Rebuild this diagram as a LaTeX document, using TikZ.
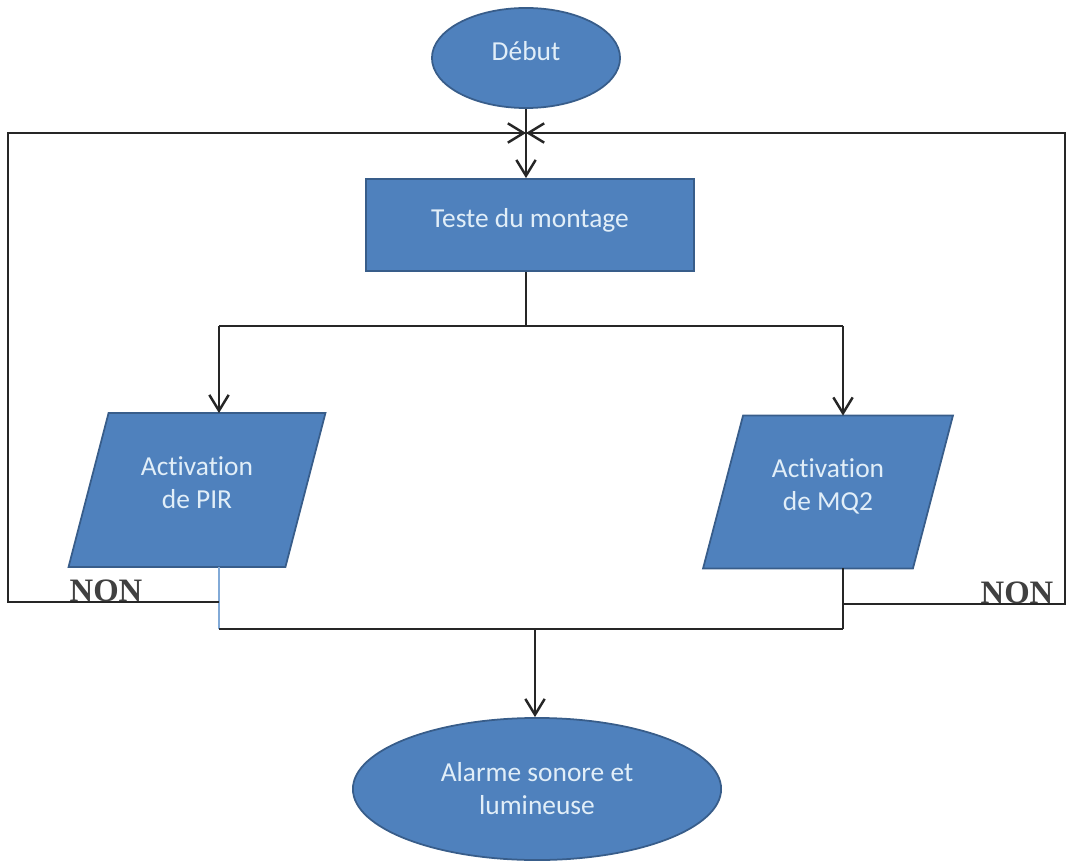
\documentclass[tikz,border=0pt]{standalone}
\usepackage{fontspec}
\setmainfont{Carlito}[Ligatures=NoCommon]
\newfontfamily\nonfont{Liberation Serif}
\usetikzlibrary{calc,arrows.meta,shapes.geometric,backgrounds}
\definecolor{boxblue}{RGB}{79,129,189}
\definecolor{boxedge}{RGB}{56,93,138}
\definecolor{boxtext}{RGB}{225,238,248}
\definecolor{thinblue}{RGB}{130,170,215}
\tikzset{
  blk/.style={fill=boxblue, draw=boxedge, line width=0.5pt, text=boxtext,
    font=\fontsize{7.8}{9.4}\selectfont, align=center, inner sep=0pt},
  lien/.style={line width=0.7pt, black!85},
  fleche/.style={lien, -{Straight Barb[length=4.5pt,width=5.5pt]}},
  non/.style={font=\nonfont\bfseries\fontsize{9.3}{11}\selectfont, text=black!75,
    inner sep=0pt, anchor=base}
}

\begin{document}
\begin{tikzpicture}[x=0.01cm,y=-0.01cm]
			%%%%% START %%%%%
			\useasboundingbox (0,0) rectangle (1070,861);
			
			\node[blk, ellipse, minimum width=1.88cm, minimum height=1.0cm, text depth=4pt] (debut) at (526,58) {D\'ebut};
			\node[blk, rectangle, minimum width=3.28cm, minimum height=0.92cm, text depth=4pt] (test) at (530,225) {Teste du montage};
			
			\node[blk, draw=none, fill=none, minimum width=2.15cm, minimum height=1.52cm, text depth=4pt] (pir) at (197,490) {Activation\\de PIR};
			\node[blk, draw=none, fill=none, minimum width=2.08cm, minimum height=1.51cm, text depth=4pt] (mq) at (828,492) {Activation\\de MQ2};
			\begin{scope}[on background layer]
				\filldraw[blk] ($(pir.north west)+(20,0)$) -- ($(pir.north east)+(20,0)$) -- ($(pir.south east)+(-20,0)$) -- ($(pir.south west)+(-20,0)$) -- cycle;
				\filldraw[blk] ($(mq.north west)+(20,0)$) -- ($(mq.north east)+(20,0)$) -- ($(mq.south east)+(-20,0)$) -- ($(mq.south west)+(-20,0)$) -- cycle;
			\end{scope}
			
			\node[blk, ellipse, minimum width=3.68cm, minimum height=1.42cm] (alarme) at (537,789) {Alarme sonore et\\lumineuse};
			
			\coordinate (boucle) at (526,133);
			\coordinate (split) at (526,326);
			\coordinate (gsplit) at (219,326);
			\coordinate (dsplit) at (843,326);
			\coordinate (gjoin) at (219,629);
			\coordinate (djoin) at (843,629);
			\coordinate (fusion) at (535,629);
			\coordinate (gnon) at (219,602);
			\coordinate (dnon) at (843,604);
			\coordinate (gcoin1) at (8,602);
			\coordinate (gcoin2) at (8,133);
			\coordinate (dcoin1) at (1065,604);
			\coordinate (dcoin2) at (1065,133);
			
			\draw[lien] (debut.south) -- (boucle);
			\draw[fleche] (boucle) -- (boucle |- test.north);
			\draw[lien] (test.south -| split) -- (split);
			\draw[lien] (gsplit) -- (dsplit);
			\draw[fleche] (gsplit) -- (gsplit |- pir.north);
			\draw[fleche] (dsplit) -- (dsplit |- mq.north);
			
			\draw[line width=0.4pt, thinblue] (pir.south -| gjoin) -- (gjoin);
			\draw[lien] (mq.south -| djoin) -- (djoin);
			\draw[lien] (gjoin) -- (djoin);
			\draw[fleche] (fusion) -- (fusion |- alarme.north);
			
			\draw[fleche] (gnon) -- (gcoin1) -- (gcoin2) -- (boucle);
			\draw[fleche] (dnon) -- (dcoin1) -- (dcoin2) -- (boucle);
			
			\node[non] (nong) at (106,601) {NON};
			\node[non] (nond) at (1017,603) {NON};
			
			%%%%% END %%%%%
\end{tikzpicture}
\end{document}
